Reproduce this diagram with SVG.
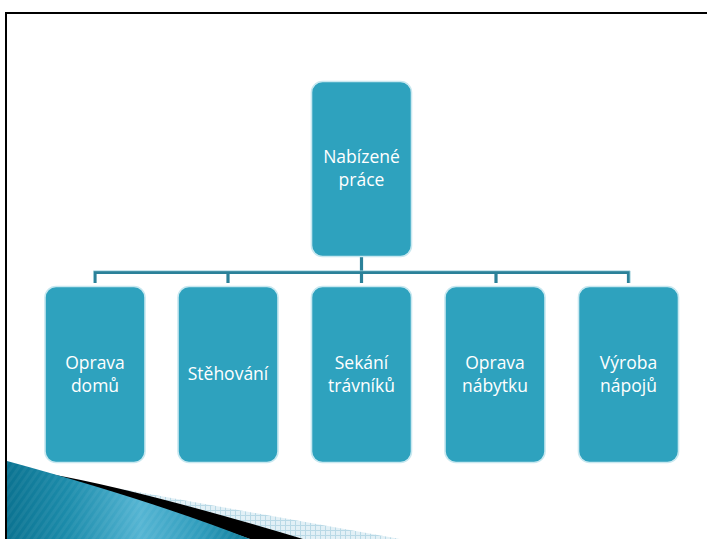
<svg xmlns="http://www.w3.org/2000/svg" width="707" height="539" viewBox="0 0 707 539">
<defs>
<style>
.box{fill:#2ea2be;stroke:#c8e8f0;stroke-width:1.6}
.boxo{fill:none;stroke:#7cc3d6;stroke-width:0.8}
.lbl{font-family:"Open Sans","DejaVu Sans",sans-serif;font-size:17.5px;fill:#ffffff;text-anchor:middle}
.con{fill:none;stroke:#2b8199;stroke-width:3.2;stroke-linejoin:miter}
.conh{fill:none;stroke:#9ccfdc;stroke-width:0.8}
</style>
<linearGradient id="blueGrad" x1="0" y1="0" x2="1" y2="0">
<stop offset="0" stop-color="#0b7391"/>
<stop offset="0.25" stop-color="#1c8cab"/>
<stop offset="0.55" stop-color="#55b5d3"/>
<stop offset="0.8" stop-color="#2f9cbc"/>
<stop offset="1" stop-color="#0f7d9a"/>
</linearGradient>
<pattern id="check" width="5" height="5" patternUnits="userSpaceOnUse">
<rect width="5" height="5" fill="#e2f0f6"/>
<path d="M0 0.5H5M0.5 0V5" stroke="#b9d9e6" stroke-width="1"/>
</pattern>
<pattern id="stripes" width="6" height="6" patternUnits="userSpaceOnUse" patternTransform="rotate(35)">
<rect width="3" height="6" fill="#ffffff" fill-opacity="0.05"/>
</pattern>
</defs>
<rect x="0" y="0" width="707" height="539" fill="#ffffff"/>
<rect x="6" y="13" width="720" height="560" fill="none" stroke="#000000" stroke-width="2"/>

<g id="decoration">
<polygon points="60,478 400,539 7,539" fill="url(#check)"/>
<path d="M50,474 Q140,490 303,539 L250,539 Q140,500 7,462 Z" fill="#000000"/>
<path d="M7,461 Q150,500 250,539 L7,539 Z" fill="url(#blueGrad)"/>
<path d="M7,461 Q150,500 250,539 L7,539 Z" fill="url(#stripes)"/>
</g>

<g id="connectors">
<path class="con" d="M361.5,256 V272.5 M95,283 V272.5 H628.5 V283 M228,272.5 V283 M361.5,272.5 V283 M496,272.5 V283"/>
<path class="conh" d="M93.5,283 V270.8 H630 V283"/>
</g>

<g id="n0">
<rect class="box" x="311.5" y="81.5" width="100" height="175" rx="11"/>
<text class="lbl" x="361.5" y="163">Nabízené</text>
<text class="lbl" x="361.5" y="186">práce</text>
</g>
<g id="n1">
<rect class="box" x="45" y="286.5" width="100" height="176" rx="11"/>
<text class="lbl" x="95" y="368.5">Oprava</text>
<text class="lbl" x="95" y="391.5">domů</text>
</g>
<g id="n2">
<rect class="box" x="178" y="286.5" width="100" height="176" rx="11"/>
<text class="lbl" x="228" y="380">Stěhování</text>
</g>
<g id="n3">
<rect class="box" x="311.5" y="286.5" width="100" height="176" rx="11"/>
<text class="lbl" x="361.5" y="368.5">Sekání</text>
<text class="lbl" x="361.5" y="391.5">trávníků</text>
</g>
<g id="n4">
<rect class="box" x="445" y="286.5" width="100" height="176" rx="11"/>
<text class="lbl" x="495" y="368.5">Oprava</text>
<text class="lbl" x="495" y="391.5">nábytku</text>
</g>
<g id="n5">
<rect class="box" x="578.5" y="286.5" width="100" height="176" rx="11"/>
<text class="lbl" x="628.5" y="368.5">Výroba</text>
<text class="lbl" x="628.5" y="391.5">nápojů</text>
</g>
</svg>
